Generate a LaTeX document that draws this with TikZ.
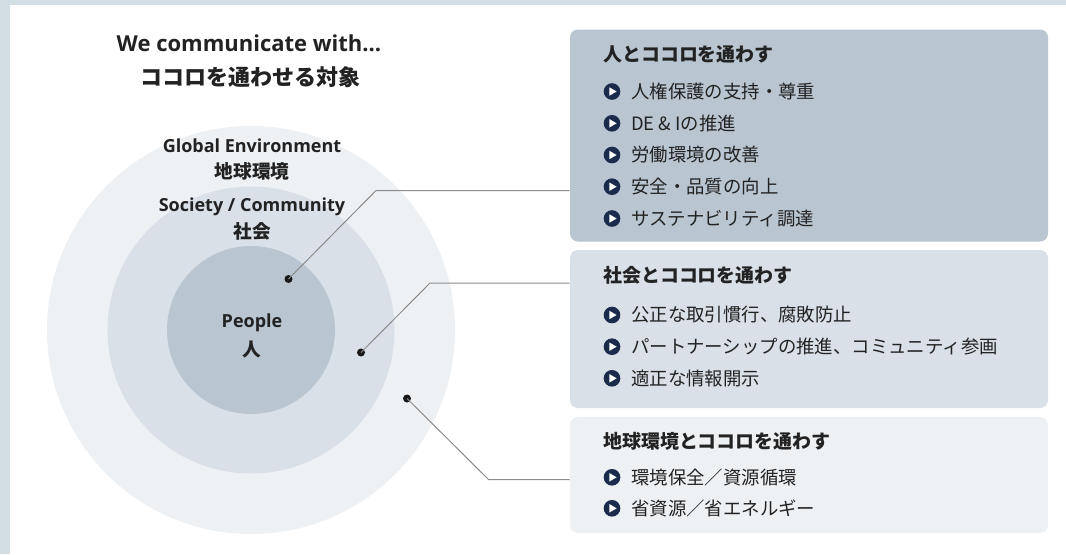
\documentclass[tikz,border=0pt]{standalone}
\usepackage{fontspec}
\setmainfont{Noto Sans CJK JP}
\newfontfamily\latinf{Open Sans}
\definecolor{framec}{HTML}{D2DDE4}
\definecolor{cone}{HTML}{EEF1F4}
\definecolor{ctwo}{HTML}{DAE0E7}
\definecolor{cthree}{HTML}{B9C5D0}
\definecolor{navy}{HTML}{1B2B4B}
\definecolor{txt}{HTML}{222222}
\definecolor{linec}{HTML}{8C8C8C}
\tikzset{
  ring/.style={circle, inner sep=0pt, draw=none},
  dotn/.style={circle, fill=black!90, inner sep=0pt, minimum size=6pt},
  conn/.style={draw=linec, line width=0.75pt},
  panel/.style={rounded corners=6pt, inner sep=0pt, minimum width=358.5pt, draw=none},
  head/.style={anchor=west, inner sep=0pt, text=txt, font=\fontsize{14.2}{16}\selectfont\bfseries},
  item/.style={anchor=west, inner sep=0pt, text=txt, font=\fontsize{13.8}{16}\selectfont},
  bul/.style={circle, fill=navy, inner sep=0pt, minimum size=12.5pt,
    path picture={\fill[white, shift={(path picture bounding box.center)}] (-2.6,-4.2) -- (-2.6,4.2) -- (4.6,0) -- cycle;}},
  lab/.style={inner sep=0pt, text=txt, align=center},
  latlab/.style={lab, font=\latinf\fontsize{13.5}{16}\selectfont\bfseries},
  jplab/.style={lab, font=\fontsize{14}{16}\selectfont\bfseries},
}
\begin{document}
\begin{tikzpicture}[x=0.75pt,y=-0.75pt]
\useasboundingbox (0,0) rectangle (1066,554);
\fill[white] (0,0) rectangle (1066,554);
\fill[framec] (0,0) rectangle (1066,5);
\fill[framec] (0,0) rectangle (10,554);

% title
\node[lab, font=\latinf\fontsize{16.5}{20}\selectfont\bfseries] (t1) at (249,43) {We communicate with...};
\node[lab, font=\fontsize{16.5}{20}\selectfont\bfseries] (t2) at (250,77) {ココロを通わせる対象};

% circles
\node[ring, fill=cone, minimum size=306pt] (outer) at (251,330) {};
\node[ring, fill=ctwo, minimum size=215.25pt] (middle) at (251,330) {};
\node[ring, fill=cthree, minimum size=126pt] (inner) at (251,330) {};

% circle labels
\node[latlab] (l1) at (252,146) {Global Environment};
\node[jplab] (l2) at (252,171) {地球環境};
\node[latlab] (l3) at (252,207) {Society / Community};
\node[jplab] (l4) at (252,231) {社会};
\node[latlab] (l5) at (252,323) {People};
\node[jplab] (l6) at (252,350) {人};

% panels
\node[panel, fill=cthree, minimum height=159pt] (box1) at (809,135.5) {};
\node[panel, fill=ctwo, minimum height=118.5pt] (box2) at (809,329) {};
\node[panel, fill=cone, minimum height=87pt] (box3) at (809,475) {};

% dots and connectors
\node[dotn] (d1) at (288.5,279) {};
\node[dotn] (d2) at (361,352.5) {};
\node[dotn] (d3) at (407,398.5) {};
\coordinate (b1) at (376,190.5);
\coordinate (b2) at (430,283);
\coordinate (b3) at (488.5,479.5);
\draw[conn] (d1.center) -- (b1) -- (b1 -| box1.west);
\draw[conn] (d2.center) -- (b2) -- (b2 -| box2.west);
\draw[conn] (d3.center) -- (b3) -- (b3 -| box3.west);

% box 1
\node[head] (h1) at (603,54) {人とココロを通わす};
\node[bul] (p11) at (612,91.5) {}; \node[item] (i11) at (631,91.5) {人権保護の支持・尊重};
\node[bul] (p12) at (612,123.3) {}; \node[item] (i12) at (631,123.3) {DE \& Iの推進};
\node[bul] (p13) at (612,155) {}; \node[item] (i13) at (631,155) {労働環境の改善};
\node[bul] (p14) at (612,186.7) {}; \node[item] (i14) at (631,186.7) {安全・品質の向上};
\node[bul] (p15) at (612,218.5) {}; \node[item] (i15) at (631,218.5) {サステナビリティ調達};

% box 2
\node[head] (h2) at (603,275) {社会とココロを通わす};
\node[bul] (p21) at (612,315) {}; \node[item] (i21) at (631,315) {公正な取引慣行、腐敗防止};
\node[bul] (p22) at (612,346.7) {}; \node[item] (i22) at (631,346.7) {パートナーシップの推進、コミュニティ参画};
\node[bul] (p23) at (612,378.3) {}; \node[item] (i23) at (631,378.3) {適正な情報開示};

% box 3
\node[head] (h3) at (603,441.7) {地球環境とココロを通わす};
\node[bul] (p31) at (612,477.3) {}; \node[item] (i31) at (631,477.3) {環境保全／資源循環};
\node[bul] (p32) at (612,508.3) {}; \node[item] (i32) at (631,508.3) {省資源／省エネルギー};
\end{tikzpicture}
\end{document}
